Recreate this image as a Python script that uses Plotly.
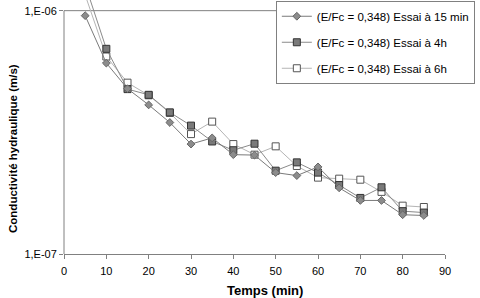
import plotly.graph_objects as go

temps = [5, 10, 15, 20, 25, 30, 35, 40, 45, 50, 55, 60, 65, 70, 75, 80, 85]

k_15min = [9.54e-7, 6.09e-7, 4.78e-7, 4.10e-7, 3.47e-7, 2.83e-7, 3.00e-7, 2.56e-7, 2.55e-7,
           2.16e-7, 2.10e-7, 2.28e-7, 1.87e-7, 1.66e-7, 1.66e-7, 1.45e-7, 1.44e-7]
k_4h = [1.28e-6, 6.97e-7, 4.76e-7, 4.51e-7, 3.82e-7, 3.37e-7, 2.90e-7, 2.67e-7, 2.84e-7,
        2.20e-7, 2.38e-7, 2.16e-7, 1.92e-7, 1.70e-7, 1.88e-7, 1.50e-7, 1.48e-7]
k_6h = [1.16e-6, 6.48e-7, 5.06e-7, 4.49e-7, 3.80e-7, 3.11e-7, 3.50e-7, 2.83e-7, 2.56e-7,
        2.77e-7, 2.30e-7, 2.06e-7, 2.04e-7, 2.02e-7, 1.80e-7, 1.58e-7, 1.56e-7]

names = ["(E/Fc = 0,348) Essai à 15 min", "(E/Fc = 0,348) Essai à 4h", "(E/Fc = 0,348) Essai à 6h"]
x_ticks = [0, 10, 20, 30, 40, 50, 60, 70, 80, 90]
y_ticks = [1e-7, 1e-6]
y_ticktext = ["1,E-07", "1,E-06"]

FONT = "Arial, 'Liberation Sans', sans-serif"

fig = go.Figure()
# drawn in reverse so the diamond series is on top; legend order set by legendrank
fig.add_trace(go.Scatter(x=temps, y=k_6h, name=names[2], mode="lines+markers",
                         legendrank=3, legendgroup="c",
                         line=dict(color="#b4b4b4", width=1),
                         marker=dict(symbol="square", size=7, color="white",
                                     line=dict(color="#555555", width=1))))
fig.add_trace(go.Scatter(x=temps, y=k_4h, name=names[1], mode="lines+markers",
                         legendrank=2, legendgroup="b",
                         line=dict(color="#8a8a8a", width=1),
                         marker=dict(symbol="square", size=7, color="#7a7a7a",
                                     line=dict(color="#333333", width=1))))
fig.add_trace(go.Scatter(x=temps, y=k_15min, name=names[0], mode="lines+markers",
                         legendrank=1, legendgroup="a",
                         line=dict(color="#7a7a7a", width=1),
                         marker=dict(symbol="diamond", size=6, color="#8c8c8c",
                                     line=dict(color="#666666", width=1))))

top = -6 + 10.7 / 244.0
ymax_paper = (-6 - (-7)) / (top - (-7))

fig.add_shape(type="line", xref="paper", yref="paper", x0=0, x1=1, y0=ymax_paper, y1=ymax_paper,
              line=dict(color="#808080", width=1), layer="below")
fig.add_shape(type="line", xref="paper", yref="paper", x0=0, x1=0, y0=0, y1=ymax_paper,
              line=dict(color="#808080", width=1), layer="below")

fig.update_layout(
    width=480, height=298,
    margin=dict(l=64, r=35, t=0, b=44),
    paper_bgcolor="white", plot_bgcolor="white",
    font=dict(family=FONT, size=11, color="#000000"),
    showlegend=True,
    legend=dict(x=0.556, y=0.997, xanchor="left", yanchor="top",
                bordercolor="#808080", borderwidth=1, bgcolor="white",
                traceorder="grouped", tracegroupgap=7,
                font=dict(family=FONT, size=11.5)),
    xaxis=dict(range=[0, 90], tickvals=x_ticks, showgrid=False, zeroline=False,
               showline=True, linecolor="#808080", linewidth=1,
               ticks="outside", ticklen=4, tickcolor="#808080",
               ticklabelstandoff=3),
    yaxis=dict(type="log", range=[-7, top], tickvals=y_ticks, ticktext=y_ticktext,
               showgrid=False, zeroline=False, showline=False,
               ticks="outside", ticklen=4, tickcolor="#808080"),
    annotations=[
        dict(text="<b>Temps (min)</b>", xref="paper", yref="paper",
             x=(265 - 64) / 381, y=(254 - 290) / 254, showarrow=False,
             xanchor="center", yanchor="middle", font=dict(family=FONT, size=13)),
        dict(text="<b>Conductivité hydraulique (m/s)</b>", xref="paper", yref="paper",
             x=(13 - 64) / 381, y=(254 - 149) / 254, showarrow=False, textangle=-90,
             xanchor="center", yanchor="middle", font=dict(family=FONT, size=11.5)),
    ],
)

fig.write_html("out.html", config={"displayModeBar": False},
               post_script="document.body.style.margin='0';")
